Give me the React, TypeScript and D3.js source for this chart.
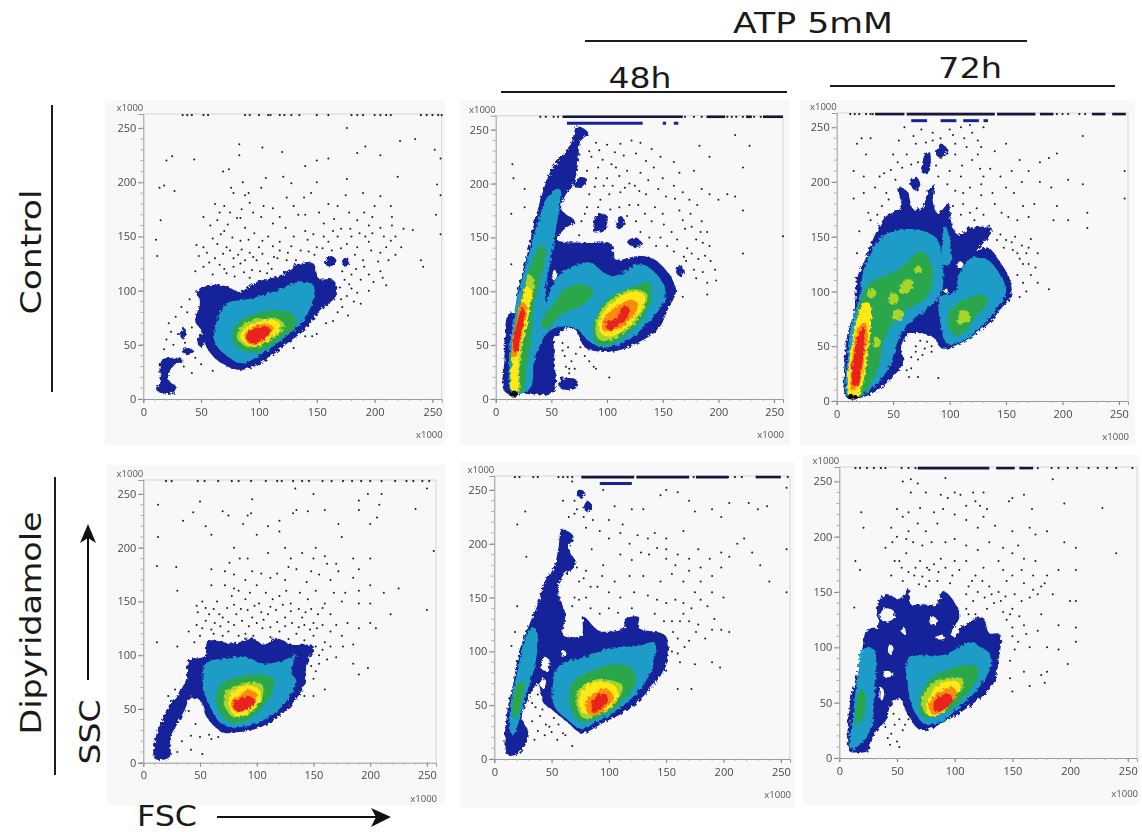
import React, { useEffect, useRef } from 'react';
import * as d3 from 'd3';

type Pt = number[];

const xTicks = [0, 50, 100, 150, 200, 250];
const yTicks = [0, 50, 100, 150, 200, 250];
const minorTicks = d3.range(0, 260, 10);

// density levels, outermost first
const levelNames = ['navy', 'blue', 'green', 'lime', 'yellow', 'orange', 'red', 'black', 'hole'];
const levelColors = ['#17249a', '#1d9cc6', '#2aa64c', '#a9d42c', '#ffe812', '#ff8a0a', '#e8201c', '#101010', '#f8f8f8'];

// Control, no ATP
const c0Navy = [[[84,27],[66,34],[55,47],[49,65],[45,71],[49,90],[46,99],[57,105],[72,104],[83,99],[98,108],[118,114],[135,125],[147,125],[152,111],[164,110],[167,96],[152,81],[141,65],[124,51],[103,34]],
  [[11,10],[14,6],[26,6],[28,12],[22,17],[24,28],[34,36],[30,38],[16,36],[14,25],[15,15]],
  [[32,58],[35,66],[37,60],[35,55]],[[47,52],[50,60],[53,55],[50,48]],[[33,44],[38,47],[44,44],[38,41]],[[157,125],[162,132],[167,128],[162,122]],[[172,128],[176,131],[178,125],[174,122]]];
const c0Blue = [[[85,33],[72,40],[62,52],[63,70],[72,88],[90,92],[115,100],[135,108],[147,105],[147,92],[138,72],[120,55],[100,40]]];
const c0Green = [[[85,45],[77,55],[80,68],[95,78],[115,82],[130,78],[132,68],[118,55],[100,44]]];
const c0Lime = [[[88,49],[81,57],[86,68],[100,74],[116,74],[122,68],[112,56],[98,48]]];
const c0Yellow = [[[90,50],[84,58],[90,67],[102,72],[116,72],[118,66],[108,55],[98,49]]];
const c0Orange = [[[91,51],[87,58],[92,65],[103,69],[112,67],[108,57],[99,51]]];
const c0Red = [[[92,52],[89,58],[94,64],[104,67],[110,64],[106,57],[98,52]]];

// Control, 48h
const c48Navy = [[[8,7],[8,38],[11,78],[16,80],[20,102],[28,133],[37,173],[50,213],[61,228],[68,238],[73,253],[83,247],[76,239],[74,219],[70,200],[62,188],[59,176],[71,165],[62,158],[55,148],[83,145],[104,144],[107,130],[131,133],[146,127],[162,102],[155,84],[146,65],[131,54],[110,45],[92,44],[80,48],[71,65],[64,65],[53,56],[53,34],[52,7],[23,5]],
  [[58,10],[72,10],[72,18],[58,18]],[[88,155],[92,172],[100,170],[98,158]],[[108,160],[112,170],[116,165],[112,158]],[[118,146],[125,150],[132,144],[124,141]],[[162,118],[166,125],[169,118],[165,114]],[[70,198],[76,206],[82,204],[76,196]]];
const c48Blue = [[[15,5],[12,35],[15,70],[22,105],[30,135],[38,165],[48,190],[57,195],[53,150],[46,110],[45,90],[56,114],[83,127],[104,114],[131,125],[150,108],[152,93],[137,71],[116,53],[95,48],[83,54],[73,65],[59,67],[47,62],[35,37],[31,10]]];
const c48Green = [[[15,6],[13,30],[17,60],[22,90],[30,120],[40,142],[45,140],[40,110],[34,85],[33,65],[28,30],[24,8]],
  [[41,71],[53,90],[65,104],[83,105],[88,99],[77,87],[59,78],[44,65]],[[90,52],[88,70],[100,92],[125,105],[138,108],[140,95],[132,75],[115,58],[100,50]]];
const c48Lime = [[[16,8],[15,30],[18,55],[23,88],[30,115],[34,112],[30,80],[24,50],[21,25],[21,8]],[[92,56],[90,72],[103,92],[125,102],[136,97],[130,78],[113,60],[101,54]]];
const c48Yellow = [[[14,8],[14,30],[17,50],[22,85],[28,105],[32,100],[28,70],[22,45],[20,25],[20,8]],[[95,60],[93,72],[105,90],[125,100],[134,95],[128,78],[112,62],[102,58]]];
const c48Orange = [[[15,40],[18,70],[24,90],[28,85],[24,60],[19,40]],[[97,63],[96,72],[107,85],[122,92],[128,88],[122,75],[110,65]]];
const c48Red = [[[16,45],[19,70],[24,85],[26,80],[22,58],[19,43]],[[100,65],[100,72],[108,74],[114,85],[120,86],[118,76],[110,68],[104,64]]];
const c48Black = [[[12,3],[12,6],[20,6],[20,3]]];
const c48Hole = [[[51,117],[53,120],[55,114],[52,110]]];

// Control, 72h
const c72Navy = [[[9,3],[7,36],[9,58],[16,85],[18,112],[26,131],[34,152],[43,168],[57,177],[54,195],[62,192],[68,175],[76,177],[81,192],[87,198],[85,183],[90,171],[99,181],[101,165],[107,152],[119,158],[137,158],[134,149],[124,137],[134,140],[146,125],[154,109],[154,94],[146,85],[134,70],[110,53],[93,48],[87,57],[72,62],[62,60],[57,48],[59,36],[46,18],[25,4]],
  [[76,208],[78,225],[82,228],[82,210]],[[88,225],[92,235],[98,230],[92,222]],[[65,198],[70,205],[74,198],[70,192]]];
const c72Blue = [[[10,4],[9,35],[13,70],[20,95],[24,120],[32,140],[43,152],[66,157],[84,152],[90,146],[93,100],[81,85],[63,70],[54,54],[46,30],[28,9]],
  [[92,70],[92,95],[105,100],[108,115],[118,130],[132,130],[145,115],[150,100],[142,85],[130,70],[112,55],[98,52]],[[94,125],[96,160],[100,150],[100,125]]];
const c72Green = [[[11,4],[11,30],[16,65],[20,88],[30,108],[45,115],[58,122],[75,137],[85,120],[80,95],[65,85],[50,72],[42,55],[38,35],[28,12],[22,5]],
  [[100,65],[100,82],[112,92],[130,97],[134,90],[124,78],[115,65],[106,60]]];
const c72Lime = [[[28,95],[30,103],[35,100],[33,94]],[[46,90],[50,99],[55,95],[52,88]],[[55,100],[62,112],[68,108],[62,98]],[[49,76],[54,84],[60,80],[55,74]],[[108,70],[108,80],[116,82],[118,74]],[[32,50],[35,58],[39,55],[36,48]],[[69,118],[72,124],[75,120],[72,116]]];
const c72Yellow = [[[11,4],[10,25],[14,55],[20,82],[25,90],[30,88],[30,65],[27,40],[23,15],[18,4]]];
const c72Orange = [[[13,10],[14,40],[19,66],[25,72],[27,60],[24,35],[20,15]]];
const c72Red = [[[14,15],[15,40],[20,62],[24,68],[25,55],[22,30],[19,15]]];
const c72Black = [[[10,2],[10,5],[18,5],[18,2]]];
const c72Hole = [[[107,122],[108,127],[111,127],[111,122]],[[95,99],[96,102],[98,102],[98,99]]];

// Dipyridamole, no ATP
const d0Navy = [[[10,4],[11,24],[16,38],[23,54],[32,66],[38,78],[40,95],[54,99],[57,113],[80,111],[95,116],[107,110],[116,116],[131,110],[150,108],[144,92],[141,70],[123,46],[101,32],[80,28],[70,28],[56,42],[50,58],[42,60],[36,48],[30,36],[24,24],[23,5]]];
const d0Blue = [[[80,33],[68,37],[60,50],[53,70],[55,92],[70,97],[90,98],[108,92],[125,96],[135,100],[130,85],[135,75],[120,50],[100,37]]];
const d0Green = [[[78,37],[68,46],[64,60],[70,74],[85,80],[105,82],[115,78],[112,62],[100,46],[88,38]]];
const d0Lime = [[[80,42],[72,52],[72,65],[82,72],[95,75],[105,72],[104,58],[95,47]]];
const d0Yellow = [[[82,43],[75,55],[78,65],[92,72],[102,68],[104,60],[95,48]]];
const d0Orange = [[[80,48],[78,58],[85,62],[92,68],[100,64],[98,55],[90,48]]];
const d0Red = [[[80,50],[80,57],[87,60],[93,62],[98,58],[95,52],[88,48]]];

// Dipyridamole, 48h
const d48Navy = [[[11,4],[11,42],[17,73],[22,101],[31,126],[38,144],[44,165],[52,178],[56,196],[59,213],[69,207],[65,196],[71,181],[59,169],[56,153],[62,135],[60,115],[76,115],[78,132],[92,119],[114,122],[114,130],[126,132],[126,122],[149,115],[152,95],[146,79],[135,64],[117,46],[94,33],[76,24],[65,33],[50,46],[43,52],[38,70],[28,52],[24,39],[30,22],[21,5]],
  [[78,232],[81,240],[85,236],[82,230]],[[72,245],[75,251],[79,247],[75,243]]];
const d48Blue = [[[14,25],[14,50],[20,80],[28,115],[35,122],[38,115],[36,90],[28,60],[20,30],[16,22]],[[76,28],[62,38],[52,50],[52,75],[58,88],[80,95],[100,103],[125,105],[140,108],[138,85],[125,62],[105,44],[88,34]]];
const d48Green = [[[16,40],[17,60],[22,72],[26,72],[23,50],[18,38]],[[75,35],[66,50],[68,70],[85,82],[108,88],[122,82],[122,68],[108,50],[90,38]]];
const d48Lime = [[[78,38],[72,50],[74,65],[90,74],[105,72],[112,68],[106,52],[92,42]]];
const d48Yellow = [[[78,42],[74,52],[78,65],[90,72],[105,68],[108,58],[98,46]]];
const d48Orange = [[[82,42],[80,52],[88,62],[98,65],[104,58],[96,46],[88,41]]];
const d48Red = [[[85,44],[86,54],[92,60],[98,60],[99,54],[94,47],[88,43]]];
const d48Hole = [[[41,84],[43,95],[48,92],[46,82]],[[58,96],[60,101],[63,98],[60,95]],[[40,70],[43,75],[45,70],[42,66]]];

// Dipyridamole, 72h
const d72Navy = [[[9,6],[9,47],[15,75],[20,99],[24,116],[33,118],[33,139],[40,148],[52,144],[60,153],[62,139],[72,139],[84,139],[90,151],[101,139],[104,127],[98,115],[124,127],[130,113],[139,112],[138,87],[133,66],[113,47],[90,32],[78,26],[69,26],[60,38],[52,54],[44,47],[41,35],[31,23],[24,6],[15,5]]];
const d72Blue = [[[10,8],[12,40],[16,75],[20,98],[30,98],[32,80],[30,50],[28,28],[18,12]],[[75,30],[65,42],[60,60],[58,85],[62,92],[90,93],[115,105],[122,100],[130,95],[132,85],[122,65],[105,47],[88,33]]];
const d72Green = [[[14,30],[15,50],[20,62],[23,55],[20,35],[16,30]],[[72,38],[70,55],[80,72],[100,82],[118,83],[120,72],[108,55],[90,40]]];
const d72Lime = [[[75,40],[72,55],[82,68],[100,73],[108,70],[100,55],[88,42]]];
const d72Yellow = [[[78,38],[76,50],[85,65],[100,70],[105,65],[98,52],[88,40]]];
const d72Orange = [[[80,40],[78,50],[87,60],[98,64],[102,58],[94,47],[86,40]]];
const d72Red = [[[83,42],[82,50],[88,56],[95,58],[98,52],[92,45],[86,42]]];
const d72Hole = [[[35,127],[39,135],[47,133],[47,126],[40,123]],[[42,97],[44,103],[47,99],[44,94]],[[37,75],[41,78],[48,76],[42,73]],[[78,123],[81,128],[85,124],[81,120]],[[97,111],[100,118],[104,115],[101,110]],[[83,109],[88,111],[92,109],[87,107]],[[35,54],[36,64],[39,60],[37,52]],[[54,114],[56,118],[58,114],[56,112]]];

// single events
const c0Dots = [[14,195],[18,197],[15,165],[11,147],[12,132],[20,220],[25,224],[44,221],[27,192],[83,235],[103,232],[83,225],[120,228],[176,250],[185,227],[192,233],[150,220],[140,215],[160,222],[205,225],[222,238],[235,240],[252,230],[257,222],[69,210],[74,212],[86,200],[106,204],[121,205],[128,199],[150,200],[176,203],[190,190],[205,187],[220,205],[254,198],[257,188],[76,195],[91,190],[102,195],[78,190],[88,188],[145,190],[160,180],[168,178],[175,188],[200,178],[215,168],[253,170],[257,152],[62,180],[70,178],[75,172],[85,175],[95,172],[102,168],[112,162],[130,178],[140,170],[152,172],[185,165],[195,160],[205,158],[215,160],[225,157],[233,156],[218,150],[223,140],[210,140],[52,168],[58,160],[64,165],[70,155],[60,148],[46,142],[48,132],[55,135],[62,130],[72,140],[78,130],[85,138],[92,135],[100,140],[108,150],[118,145],[130,150],[140,155],[150,140],[160,145],[168,150],[180,150],[185,140],[195,145],[205,135],[240,128],[242,122],[45,118],[52,122],[60,115],[70,120],[78,122],[84,125],[92,112],[98,128],[108,125],[116,130],[125,135],[132,128],[172,118],[180,115],[188,110],[195,115],[205,118],[180,102],[185,98],[195,100],[210,105],[40,92],[33,85],[28,76],[22,70],[30,60],[26,50],[35,30],[42,24],[60,26],[172,85],[164,72],[150,60],[140,58],[130,47],
  [66,172],[81,167],[73,161],[88,158],[96,153],[67,152],[77,149],[84,146],[91,147],[103,146],[112,141],[69,134],[75,137],[82,133],[88,128],[95,131],[103,134],[111,120],[118,137],[124,128],[128,141],[136,137],[143,136],[148,133],[155,139],[163,137],[171,139],[176,143],[183,133],[190,128],[197,137],[203,127],[212,128],[66,124],[72,116],[79,113],[87,117],[94,119],[101,118],[107,116],[113,131],[142,147],[147,152],[156,150],[164,155],[171,157],[179,157],[187,153],[192,150],[198,153],[208,150],[214,146],[218,133],[174,110],[178,106],[184,120],[191,122],[199,108],[207,112],[170,103],[176,95],[182,90],[188,88],[171,92],[168,80],[177,77],[158,70],[146,58],[52,140],[57,126],[64,143],[38,80],[42,66],[24,62],[20,55],[18,46],[36,52],[45,38],[50,32],[124,186],[134,170],[118,168],[123,158],[156,162],[165,166],[178,172],[191,172],[139,186],[112,176],[104,178],[92,181],[84,167],[198,168],[214,178]];
const c48Dots = [[15,218],[16,205],[26,195],[14,172],[26,178],[14,125],[90,238],[100,236],[112,237],[122,240],[130,238],[140,232],[148,225],[160,220],[183,235],[192,225],[215,245],[228,235],[222,215],[178,212],[165,210],[150,205],[142,215],[130,210],[118,212],[104,218],[96,222],[86,225],[82,212],[90,205],[100,205],[108,215],[120,200],[125,198],[135,190],[160,198],[185,195],[192,190],[200,185],[208,190],[215,188],[222,175],[84,190],[94,185],[102,190],[112,192],[128,180],[150,172],[165,175],[175,172],[185,165],[190,155],[120,180],[82,178],[140,165],[158,155],[170,158],[180,148],[192,142],[222,135],[258,151],[130,155],[148,150],[172,140],[182,130],[178,120],[190,108],[198,110],[190,97],[168,95],[84,140],[120,120],[60,52],[62,40],[68,35],[66,28],[76,48],[84,35],[90,28],[102,20],[78,55],[60,45],
  [84,230],[93,231],[107,229],[115,226],[126,228],[135,221],[92,215],[111,207],[97,198],[89,197],[105,198],[116,196],[129,193],[137,203],[146,195],[153,188],[161,186],[168,192],[174,185],[181,180],[92,178],[103,176],[111,178],[118,170],[126,165],[134,172],[143,178],[151,162],[163,148],[168,166],[176,160],[184,155],[186,145],[176,135],[188,133],[193,128],[171,128],[180,112],[186,118],[197,120],[80,172],[77,165],[75,152],[138,150],[144,142],[154,142],[160,137],[169,132],[65,48],[72,42],[80,40],[63,30],[71,28],[88,30],[60,20],[66,24]];
const c72Dots = [[22,240],[18,235],[30,240],[26,225],[50,225],[54,218],[15,210],[24,205],[15,185],[24,190],[38,205],[44,190],[40,178],[30,165],[20,155],[18,135],[60,250],[75,248],[85,245],[100,248],[110,250],[120,245],[130,250],[125,238],[105,235],[115,232],[70,235],[55,238],[62,225],[72,218],[105,225],[125,225],[140,228],[150,235],[162,220],[170,210],[180,218],[188,222],[195,226],[218,242],[255,210],[255,185],[205,202],[218,198],[180,200],[190,195],[145,205],[155,210],[130,205],[110,205],[100,210],[90,205],[105,192],[118,195],[128,188],[140,180],[150,195],[165,178],[175,180],[195,178],[192,165],[205,165],[222,172],[222,158],[170,168],[160,165],[130,170],[118,172],[135,160],[145,152],[155,145],[148,140],[160,135],[170,140],[178,135],[165,125],[172,115],[178,108],[188,102],[168,100],[162,95],[60,55],[70,50],[78,48],[72,38],[66,30],[62,28],[72,22],[90,21],[84,45],
  [48,211],[58,213],[66,216],[79,236],[85,238],[92,240],[98,226],[111,215],[120,220],[127,212],[136,212],[78,212],[88,215],[98,198],[112,190],[124,176],[138,190],[146,172],[152,168],[157,190],[164,200],[42,208],[34,195],[52,202],[46,184],[36,170],[28,172],[110,170],[122,165],[142,147],[150,147],[158,150],[164,142],[172,148],[168,135],[156,138],[162,130],[170,125],[176,122],[160,115],[165,108],[70,45],[76,42],[66,40],[64,22],[74,55],[80,54],[84,50],[103,178],[112,180],[128,198],[113,240],[103,243],[118,252],[128,232],[68,242]];
const d0Dots = [[13,240],[13,210],[12,183],[29,182],[30,160],[12,112],[35,225],[44,233],[50,243],[55,220],[60,212],[70,234],[75,230],[92,230],[96,245],[95,232],[110,220],[134,255],[150,250],[135,235],[132,232],[145,234],[160,235],[172,222],[175,210],[190,244],[190,235],[198,250],[210,250],[208,240],[206,228],[200,222],[250,255],[240,236],[120,225],[120,215],[88,222],[100,212],[80,200],[85,190],[110,195],[125,200],[140,195],[150,190],[160,192],[170,185],[185,190],[190,180],[200,190],[256,197],[60,180],[72,178],[80,175],[90,170],[100,165],[112,172],[125,170],[135,180],[155,175],[165,170],[185,172],[190,160],[200,165],[212,158],[225,162],[60,165],[52,150],[65,150],[78,155],[90,152],[102,148],[120,155],[130,148],[145,152],[160,148],[175,150],[190,148],[200,148],[218,138],[250,142],[48,140],[58,138],[70,135],[82,138],[96,135],[110,138],[125,135],[140,135],[150,130],[165,138],[180,130],[190,125],[200,130],[205,125],[40,122],[50,118],[62,120],[75,122],[90,120],[105,125],[120,122],[135,120],[150,118],[160,112],[175,118],[185,110],[30,108],[155,100],[170,98],[185,92],[190,82],[198,88],[150,78],[160,68],[142,62],[150,62],[28,68],[22,62],[28,40],[42,25],[42,12],[52,8],[60,22],[30,10],
  [47,146],[55,144],[62,143],[67,138],[74,144],[80,147],[86,143],[92,142],[98,146],[104,140],[112,145],[117,142],[123,147],[130,141],[137,143],[143,140],[148,143],[154,138],[158,144],[55,132],[63,130],[68,127],[75,131],[80,128],[87,132],[93,127],[100,130],[106,133],[112,126],[118,131],[125,127],[131,130],[137,126],[142,128],[147,124],[153,125],[158,128],[165,122],[170,128],[45,112],[52,125],[47,128],[60,124],[70,118],[84,118],[97,118],[112,117],[128,115],[142,114],[152,108],[158,105],[162,96],[155,92],[148,90],[152,85],[165,108],[176,108],[84,160],[94,158],[108,158],[114,152],[126,160],[138,158],[152,160],[168,158],[178,158],[72,165],[80,162],[96,178],[104,176],[118,176],[128,182],[144,168],[148,178],[172,178],[92,190],[76,186],[130,190],[152,200],[162,185],[45,68],[36,58],[40,48],[46,36],[50,24],[58,26],[66,24],[34,20],[24,50]];
const d48Dots = [[27,230],[20,218],[28,188],[20,142],[18,118],[15,105],[60,240],[65,225],[70,228],[80,215],[95,250],[105,235],[120,232],[130,232],[145,245],[150,250],[160,248],[170,240],[175,230],[190,232],[198,225],[205,238],[222,238],[230,232],[238,235],[255,252],[218,205],[212,200],[225,192],[232,180],[255,195],[240,165],[255,155],[205,188],[198,178],[190,170],[180,165],[170,175],[160,190],[150,195],[135,190],[120,185],[110,190],[100,205],[110,210],[125,208],[140,210],[150,205],[165,212],[178,195],[85,195],[95,180],[80,175],[74,165],[70,150],[80,150],[90,160],[105,165],[118,170],[130,170],[145,165],[155,172],[165,165],[175,155],[190,155],[200,150],[205,118],[190,120],[178,125],[165,135],[155,128],[170,110],[175,88],[190,90],[197,85],[162,90],[150,82],[160,65],[172,65],[40,40],[33,35],[38,26],[45,32],[50,25],[55,18],[60,24],[68,12],[35,18],[46,65],[30,62],
  [68,258],[70,240],[72,232],[78,225],[86,222],[92,212],[100,222],[112,218],[118,200],[128,192],[134,205],[142,196],[150,186],[158,180],[170,186],[180,178],[188,186],[198,192],[72,178],[78,168],[84,160],[94,170],[100,155],[110,150],[122,155],[134,152],[142,148],[150,145],[158,148],[165,145],[172,140],[180,148],[186,142],[192,130],[198,120],[162,128],[170,128],[176,118],[184,112],[68,142],[74,148],[84,140],[92,135],[100,140],[108,136],[120,140],[140,135],[148,128],[156,118],[160,112],[166,104],[155,100],[160,98],[48,30],[42,46],[52,38],[36,48],[33,52],[56,32],[44,22],[62,22],[28,70],[38,60]];
const d72Dots = [[19,222],[21,208],[14,178],[18,170],[13,136],[55,250],[62,252],[92,253],[75,240],[88,238],[100,240],[105,238],[116,240],[118,232],[122,228],[128,225],[147,232],[150,235],[160,238],[167,225],[195,230],[228,226],[185,252],[50,225],[55,218],[60,222],[45,208],[50,200],[60,205],[75,205],[85,212],[90,225],[100,220],[110,215],[120,208],[135,210],[150,205],[165,208],[170,202],[180,205],[195,195],[205,190],[240,185],[40,190],[52,178],[58,185],[70,178],[78,170],[88,180],[100,178],[110,178],[125,172],[138,178],[150,185],[160,180],[170,178],[180,165],[190,170],[205,170],[45,165],[55,160],[65,165],[75,155],[85,160],[98,165],[115,160],[130,155],[145,160],[160,158],[175,155],[185,148],[200,142],[205,142],[120,150],[140,142],[150,135],[165,145],[175,130],[190,120],[205,118],[110,135],[125,125],[145,125],[160,120],[172,115],[150,110],[165,100],[180,100],[205,105],[190,98],[198,85],[148,88],[160,78],[175,75],[180,78],[165,65],[178,68],[148,72],[150,60],[42,18],[50,15],[55,25],[48,30],[60,35],[40,28],
  [48,178],[54,172],[60,168],[66,172],[72,164],[78,160],[69,157],[76,172],[82,175],[86,168],[92,172],[96,158],[104,170],[112,155],[118,165],[124,160],[110,148],[116,142],[126,145],[132,148],[138,150],[144,146],[152,148],[158,142],[168,152],[172,148],[178,158],[112,130],[118,130],[128,135],[134,140],[142,132],[148,130],[156,128],[150,118],[162,112],[155,105],[152,98],[58,198],[64,195],[72,192],[80,195],[92,195],[100,198],[110,192],[120,188],[130,195],[142,190],[155,192],[46,195],[68,212],[82,222],[94,235],[110,228],[125,240],[125,218],[70,226],[62,240],[68,248],[142,170],[150,165],[158,170],[168,165],[47,40],[52,35],[57,30],[45,22],[52,10],[60,42],[44,12]];

// events piled up on the top edge of the scale
const c0Rug = [34,38,42,52,56,88,92,100,108,110,118,122,128,135,150,160,180,185,190,200,205,210,214,240,245,250,255,258];
const c48Rug = [40,45,52,56,170,178,185,190,208,212,216,222,226,232,238,244,250,254];
const c72Rug = [12,16,20,26,30,32,195,200,205,215,220];
const d0Rug = [20,25,48,54,66,78,84,95,108,118,122,132,140,146,158,166,176,184,192,200,210,222,232,238,246,252];
const d48Rug = [18,22,34,38,56,60,64,68,174,178,186,192,204,210,216,256];
const d72Rug = [14,18,24,30,36,40,54,60,66,72,76,148,160,172,184,190,198,206,216,224,232,240,254];

const c48Band = [[60,168],[190,206],[225,230],[240,258]];
const c72Band = [[34,60],[62,140],[142,176],[180,192],[226,238],[244,256]];
const d48Band = [[76,122],[124,170],[176,204],[228,250]];
const d72Band = [[68,130],[136,152],[156,168]];
const c48Blue2 = [[64,132],[150,153],[160,164]];
const c72Blue2 = [[66,80],[92,106],[112,126],[130,134]];
const d48Blue2 = [[92,120]];

const titleTexts = ['ATP 5mM', '48h', '72h', 'FSC', 'Control', 'Dipyridamole', 'SSC'];
const titleWidths = [160, 63, 64, 60, 125, 223, 65];

const panelNames = ['c0', 'c48', 'c72', 'd0', 'd48', 'd72'];
const panelLefts = [143.3, 495.7, 836.7, 143.3, 494.3, 839.3];
const panelRights = [441.7, 783, 1128, 436, 790, 1137];
const panelBottoms = [399, 399, 401, 762.7, 759, 758];
const panelTops = [114, 115.7, 113, 480, 476, 467];
const cardX = [105, 460, 800, 107, 460, 803];
const cardY = [100, 100, 100, 465, 462, 455];
const cardW = [340, 330, 335, 338, 335, 337];
const cardH = [345, 345, 345, 340, 346, 350];

const panelLevels: Pt[][][][] = [
  [c0Navy, c0Blue, c0Green, c0Lime, c0Yellow, c0Orange, c0Red, [], []],
  [c48Navy, c48Blue, c48Green, c48Lime, c48Yellow, c48Orange, c48Red, c48Black, c48Hole],
  [c72Navy, c72Blue, c72Green, c72Lime, c72Yellow, c72Orange, c72Red, c72Black, c72Hole],
  [d0Navy, d0Blue, d0Green, d0Lime, d0Yellow, d0Orange, d0Red, [], []],
  [d48Navy, d48Blue, d48Green, d48Lime, d48Yellow, d48Orange, d48Red, [], d48Hole],
  [d72Navy, d72Blue, d72Green, d72Lime, d72Yellow, d72Orange, d72Red, [], d72Hole],
];
const panelDots = [c0Dots, c48Dots, c72Dots, d0Dots, d48Dots, d72Dots];
const panelRugs = [c0Rug, c48Rug, c72Rug, d0Rug, d48Rug, d72Rug];
const panelBands = [[], c48Band, c72Band, [], d48Band, d72Band];
const panelBlueBands = [[], c48Blue2, c72Blue2, [], d48Blue2, []];

const App = () => {
  const ref = useRef<SVGSVGElement>(null);

  useEffect(() => {
    const svg = d3.select(ref.current);
    svg.selectAll('*').remove();

    const defs = svg.append('defs');
    const rough = defs.append('filter').attr('id', 'rough')
      .attr('x', '-5%').attr('y', '-5%').attr('width', '110%').attr('height', '110%');
    rough.append('feTurbulence').attr('type', 'fractalNoise').attr('baseFrequency', 0.3)
      .attr('numOctaves', 2).attr('seed', 4).attr('result', 'n');
    rough.append('feDisplacementMap').attr('in', 'SourceGraphic').attr('in2', 'n')
      .attr('scale', 5).attr('result', 'd');
    rough.append('feGaussianBlur').attr('in', 'd').attr('stdDeviation', 0.7);
    defs.append('filter').attr('id', 'soft')
      .append('feGaussianBlur').attr('stdDeviation', 0.45);

    panelNames.forEach((name, i) => {
      const x = d3.scaleLinear().domain([0, 258]).range([panelLefts[i], panelRights[i]]);
      const y = d3.scaleLinear().domain([0, 263]).range([panelBottoms[i], panelTops[i]]);
      const g = svg.append('g').attr('class', name);

      g.append('rect')
        .attr('x', cardX[i]).attr('y', cardY[i])
        .attr('width', cardW[i]).attr('height', cardH[i])
        .attr('fill', '#f8f8f8');

      // frame
      g.append('path')
        .attr('d', `M${x(0)},${y(263)}H${x(258)}V${y(0)}`)
        .attr('fill', 'none').attr('stroke', '#d4d4d4').attr('stroke-width', 1);

      const xAxis = g.append('g').attr('transform', `translate(0,${y(0)})`)
        .call(d3.axisBottom(x).tickValues(xTicks).tickSize(4).tickPadding(5).tickFormat(d3.format('d')));
      const yAxis = g.append('g').attr('transform', `translate(${x(0)},0)`)
        .call(d3.axisLeft(y).tickValues(yTicks).tickSize(5).tickPadding(2).tickFormat(d3.format('d')));
      [xAxis, yAxis].forEach(a => {
        a.attr('filter', 'url(#soft)');
        a.selectAll('.domain').attr('stroke', '#9a9a9a');
        a.selectAll('.tick line').attr('stroke', '#777');
        a.selectAll('text')
          .attr('fill', '#4a4a4a')
          .style('font-family', '"Open Sans", sans-serif')
          .style('font-size', '11px');
      });
      g.selectAll('line.mx').data(minorTicks).join('line').attr('class', 'mx')
        .attr('x1', d => x(d)).attr('x2', d => x(d))
        .attr('y1', y(0)).attr('y2', y(0) + 2)
        .attr('stroke', '#b0b0b0');
      g.selectAll('line.my').data(minorTicks).join('line').attr('class', 'my')
        .attr('y1', d => y(d)).attr('y2', d => y(d))
        .attr('x1', x(0)).attr('x2', x(0) - 3)
        .attr('stroke', '#b0b0b0');

      g.append('text').text('x1000')
        .attr('x', x(0)).attr('y', y(263) - 3).attr('text-anchor', 'end')
        .attr('fill', '#555').attr('filter', 'url(#soft)')
        .style('font-family', '"Open Sans", sans-serif').style('font-size', '9.5px');
      g.append('text').text('x1000')
        .attr('x', x(258) + 1).attr('y', y(0) + 39).attr('text-anchor', 'end')
        .attr('fill', '#555').attr('filter', 'url(#soft)')
        .style('font-family', '"Open Sans", sans-serif').style('font-size', '9.5px');

      const marks = g.append('g').attr('filter', 'url(#soft)');
      marks.selectAll('circle.dot').data(panelDots[i]).join('circle').attr('class', 'dot')
        .attr('cx', d => x(d[0])).attr('cy', d => y(d[1]))
        .attr('r', 1).attr('fill', '#1b1b1b');
      marks.selectAll('circle.rug').data(panelRugs[i]).join('circle').attr('class', 'rug')
        .attr('cx', d => x(d)).attr('cy', y(262))
        .attr('r', 1.1).attr('fill', '#1b1b1b');
      marks.selectAll('line.band').data(panelBands[i]).join('line').attr('class', 'band')
        .attr('x1', d => x(d[0])).attr('x2', d => x(d[1]))
        .attr('y1', y(262)).attr('y2', y(262))
        .attr('stroke', '#14143c').attr('stroke-width', 2.6);
      marks.selectAll('line.blue').data(panelBlueBands[i]).join('line').attr('class', 'blue')
        .attr('x1', d => x(d[0])).attr('x2', d => x(d[1]))
        .attr('y1', y(256)).attr('y2', y(256))
        .attr('stroke', levelColors[0]).attr('stroke-width', 3);

      const line = d3.line<Pt>()
        .x(d => x(d[0])).y(d => y(d[1]))
        .curve(d3.curveCatmullRomClosed.alpha(0.5));
      const density = g.append('g').attr('filter', 'url(#rough)');
      panelLevels[i].forEach((polys, level) => {
        density.selectAll(`path.${levelNames[level]}`).data(polys).join('path')
          .attr('class', levelNames[level])
          .attr('d', d => line(d))
          .attr('fill', levelColors[level]);
      });
    });

    // annotation
    const rules = [[585, 41, 1027, 41], [501, 92, 787, 92], [830, 86, 1115, 86], [52, 105, 52, 392], [55, 477, 55, 775]];
    svg.selectAll('line.rule').data(rules).join('line').attr('class', 'rule')
      .attr('x1', d => d[0]).attr('y1', d => d[1]).attr('x2', d => d[2]).attr('y2', d => d[3])
      .attr('stroke', '#1c1c1c').attr('stroke-width', 2);

    const titleX = [813, 640, 970, 167, 41, 41, 100];
    const titleY = [33, 88, 78, 826, 252, 623, 732];
    const titleR = [0, 0, 0, 0, -90, -90, -90];
    svg.selectAll('text.lab').data(titleTexts).join('text').attr('class', 'lab')
      .attr('transform', (d, i) => `translate(${titleX[i]},${titleY[i]}) rotate(${titleR[i]})`)
      .attr('text-anchor', 'middle')
      .attr('textLength', (d, i) => titleWidths[i])
      .attr('lengthAdjust', 'spacingAndGlyphs')
      .attr('fill', '#1a1a1a')
      .style('font-family', '"DejaVu Sans", sans-serif')
      .style('font-size', '28px')
      .text(d => d);

    // SSC and FSC arrows
    svg.append('path').attr('d', 'M88,680V535').attr('stroke', '#111').attr('stroke-width', 2).attr('fill', 'none');
    svg.append('path').attr('d', 'M88,524L96,543L88,538L80,543Z').attr('fill', '#111');
    svg.append('path').attr('d', 'M217,817H380').attr('stroke', '#111').attr('stroke-width', 2).attr('fill', 'none');
    svg.append('path').attr('d', 'M391,817L371,808L376,817L371,827Z').attr('fill', '#111');
  }, []);

  return (
    <svg ref={ref} width={1142} height={832}
      style={{ position: 'absolute', left: 0, top: 0, display: 'block', background: '#fff' }} />
  );
};

export default App;
